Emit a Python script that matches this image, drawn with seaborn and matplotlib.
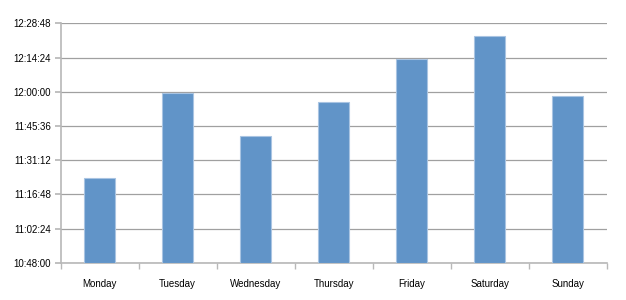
import matplotlib
matplotlib.use("Agg")
import matplotlib.pyplot as plt
import seaborn as sns
import pandas as pd
from matplotlib.ticker import FuncFormatter, FixedLocator

days = ["Monday", "Tuesday", "Wednesday", "Thursday", "Friday", "Saturday", "Sunday"]
times = ["11:23:43", "11:59:35", "11:41:13", "11:55:54", "12:13:59", "12:23:35", "11:58:18"]
y_ticks = ["10:48:00", "11:02:24", "11:16:48", "11:31:12", "11:45:36", "12:00:00", "12:14:24", "12:28:48"]

def to_sec(t):
    h, m, s = map(int, t.split(":"))
    return h * 3600 + m * 60 + s

def fmt(v, pos=None):
    v = int(round(v))
    return f"{v // 3600}:{(v % 3600) // 60:02d}:{v % 60:02d}"

df = pd.DataFrame({"day": days, "sec": [to_sec(t) for t in times]})
ymin = to_sec(y_ticks[0])
ymax = to_sec(y_ticks[-1])

sns.set_theme(style="white")
plt.rcParams["font.family"] = ["Liberation Sans", "DejaVu Sans"]

fig = plt.figure(figsize=(6.26, 3.0), dpi=100)
ax = fig.add_axes([0.097, 0.1243, 0.872, 0.7977])

sns.barplot(data=df, x="day", y="sec", color="#6194C8", saturation=1, width=0.4,
            edgecolor="#A9C4E2", linewidth=0.8, ax=ax, zorder=3)
for p, v in zip(ax.patches, df["sec"]):
    p.set_y(ymin)
    p.set_height(v - ymin)

ax.set_ylim(ymin, ymax)
ax.set_xlim(-0.5, len(days) - 0.5)
ax.yaxis.set_major_locator(FixedLocator([to_sec(t) for t in y_ticks]))
ax.yaxis.set_major_formatter(FuncFormatter(fmt))
ax.grid(axis="y", color="#A0A0A0", linewidth=0.9, zorder=0)
ax.set_axisbelow(True)
ax.set_xlabel("")
ax.set_ylabel("")

for s in ["top", "right"]:
    ax.spines[s].set_visible(False)
ax.spines["left"].set_color("#B8B8B8")
ax.spines["bottom"].set_color("#B8B8B8")
ax.spines["left"].set_linewidth(1.2)
ax.spines["bottom"].set_linewidth(1.2)

ax.tick_params(axis="y", which="major", left=True, length=4, color="#B8B8B8",
               labelsize=7, labelcolor="black", pad=3)
ax.tick_params(axis="x", which="major", bottom=False, labelsize=7, labelcolor="black", pad=6)
ax.xaxis.set_minor_locator(FixedLocator([i - 0.5 for i in range(len(days) + 1)]))
ax.tick_params(axis="x", which="minor", bottom=True, length=4, color="#B8B8B8", width=1.0)

fig.savefig("out.png", dpi=100, facecolor="white")
